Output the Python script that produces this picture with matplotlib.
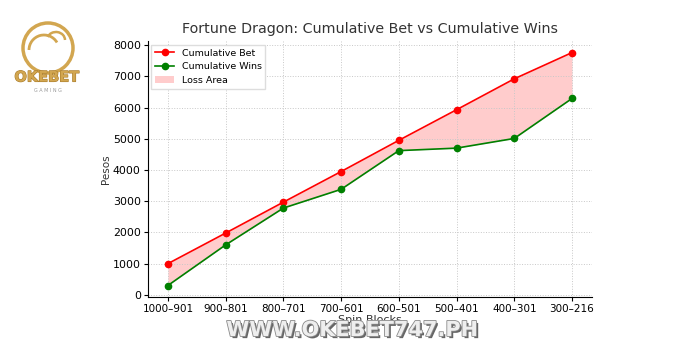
import matplotlib.pyplot as plt
import matplotlib.patheffects as pe
from matplotlib.patches import Circle, Arc

blocks = ["1000–901", "900–801", "800–701", "700–601", "600–501", "500–401", "400–301", "300–216"]
cum_bet = [1000, 1980, 2970, 3950, 4950, 5930, 6920, 7760]
cum_wins = [300, 1600, 2780, 3380, 4620, 4700, 5010, 6290]

fig = plt.figure(figsize=(7, 3.5), dpi=100)
ax = fig.add_axes([0.211, 0.151, 0.635, 0.732])

x = range(len(blocks))
ax.plot(x, cum_bet, color="red", marker="o", markersize=4.5, linewidth=1.2, label="Cumulative Bet")
ax.plot(x, cum_wins, color="green", marker="o", markersize=4.5, linewidth=1.2, label="Cumulative Wins")
ax.fill_between(x, cum_wins, cum_bet, color="red", alpha=0.2, linewidth=0, label="Loss Area")

ax.set_xticks(list(x))
ax.set_xticklabels(blocks, fontsize=7.5)
ax.tick_params(axis="y", labelsize=7.9, length=3, pad=2)
ax.tick_params(axis="x", length=3, pad=2)
ax.set_yticks(range(0, 8001, 1000))
ax.set_xlabel("Spin Blocks", fontsize=8, labelpad=1, color="#333333")
ax.set_ylabel("Pesos", fontsize=7.5, labelpad=1, color="#333333")
ax.set_title("Fortune Dragon: Cumulative Bet vs Cumulative Wins", fontsize=10.3, color="#333333", pad=6)
ax.grid(True, linestyle=":", color="#c8c8c8", linewidth=0.7)
ax.spines["top"].set_visible(False)
ax.spines["right"].set_visible(False)
ax.legend(loc="upper left", fontsize=6.8, framealpha=1, edgecolor="#dddddd",
          borderaxespad=0.4, fancybox=False)

# watermark
fig.text(0.503, 0.057, "WWW.OKEBET747.PH", ha="center", va="center", fontsize=15,
         fontweight="bold", color="#eeeeee",
         path_effects=[pe.withSimplePatchShadow(offset=(1.5, -1.5), shadow_rgbFace="#555555", alpha=0.9),
                       pe.Stroke(linewidth=1.2, foreground="#8a8a8a"), pe.Normal()])

# logo
gold = "#d2a650"
lax = fig.add_axes([0, 0, 1, 1], zorder=-1)
lax.set_xlim(0, 700)
lax.set_ylim(350, 0)
lax.axis("off")
lax.add_patch(Circle((48, 48), 25, fill=False, edgecolor=gold, linewidth=2.5))
lax.add_patch(Arc((44, 50), 30, 30, theta1=180, theta2=330, edgecolor=gold, linewidth=2))
lax.add_patch(Arc((56, 40), 18, 16, theta1=200, theta2=360, edgecolor=gold, linewidth=1.8))
lax.text(47, 77, "OKEBET", ha="center", va="center", fontsize=10.5, fontweight="bold", color=gold,
         path_effects=[pe.Stroke(linewidth=0.8, foreground="#a77a2a"), pe.Normal()])
lax.text(48, 90, "G A M I N G", ha="center", va="center", fontsize=3.5, color="#999999")

fig.savefig("out.png", dpi=100)
